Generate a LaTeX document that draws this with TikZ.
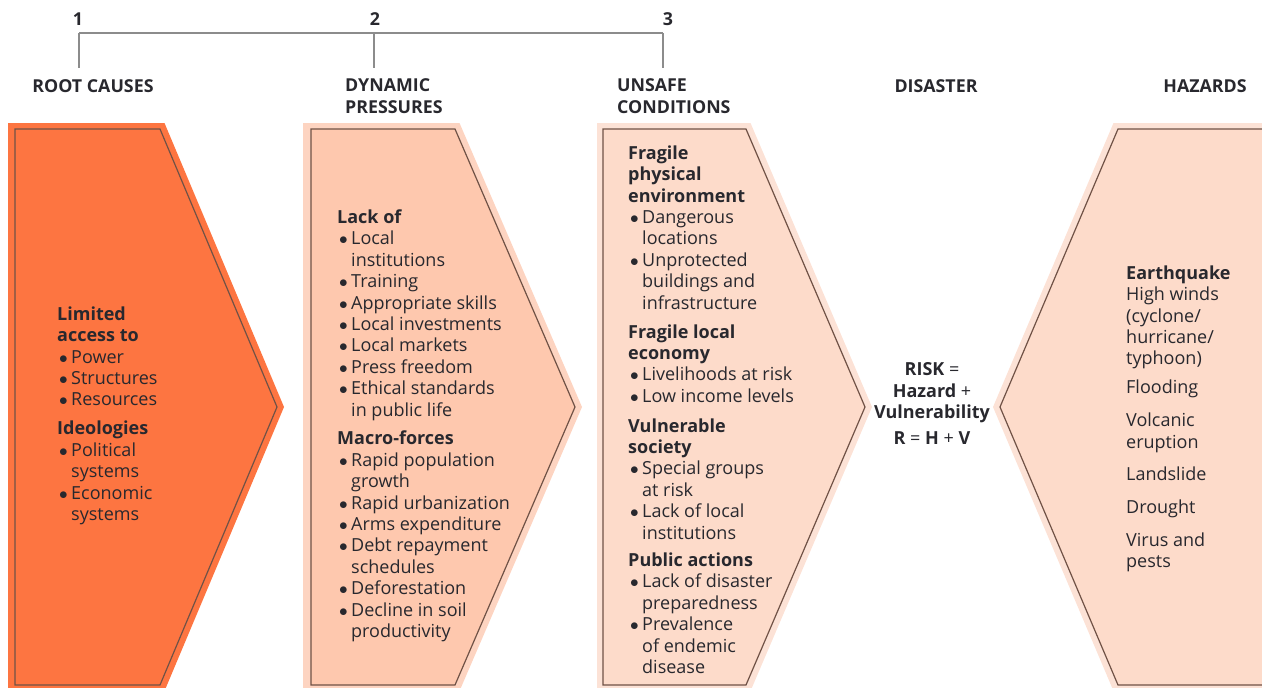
\documentclass[tikz,border=0pt]{standalone}
\usepackage{fontspec}
\setmainfont{Open Sans}
\usetikzlibrary{positioning}

\definecolor{ink}{RGB}{40,40,46}
\definecolor{rootfill}{RGB}{253,117,65}
\definecolor{pressfill}{RGB}{254,200,174}
\definecolor{pressband}{RGB}{253,212,193}
\definecolor{unsafefill}{RGB}{253,219,202}
\definecolor{unsafeband}{RGB}{252,226,214}
\definecolor{edgeline}{RGB}{112,82,70}
\definecolor{bracketgray}{RGB}{140,140,140}

% bullet item and its continuation line
\newcommand{\bul}{\hspace*{2pt}\makebox[12pt][l]{$\bullet$}}
\newcommand{\cont}{\hspace*{14pt}}

\begin{document}
\begin{tikzpicture}[
    x=1pt, y=-1pt,
    font=\fontsize{18}{21.4}\selectfont,
    % Define styles
    head/.style={font=\fontsize{17.8}{21.4}\selectfont\bfseries, text=ink, inner sep=0pt, align=left},
    body/.style={text=ink, inner sep=0pt, align=left, anchor=north west},
    inner/.style={draw=edgeline, line width=1.2pt, line join=miter},
    bracket/.style={draw=bracketgray, line width=1.4pt}
]
\clip (0,0) rectangle (1262,688);

% 1. Numbered bracket over the first three columns
\node[head, anchor=base] (n1) at (78,25) {1};
\node[head, anchor=base] (n2) at (375,25) {2};
\node[head, anchor=base] (n3) at (668,25) {3};
\coordinate (b1) at (79,33);
\coordinate (b2) at (374,33);
\coordinate (b3) at (663,33);
\draw[bracket] (b1) -- (b3);
\draw[bracket] (b1) -- ++(0,35);
\draw[bracket] (b2) -- ++(0,35);
\draw[bracket] (b3) -- ++(0,35);

% Column headings (two-line ones sit on their last baseline)
\node[head, anchor=base] (root) at (93,92) {ROOT CAUSES};
\node[head, anchor=base west] (dyn) at (345,113) {DYNAMIC\\PRESSURES};
\node[head, anchor=base west] (unsafe) at (617,113) {UNSAFE\\CONDITIONS};
\node[head, anchor=base] (dis) at (936,92) {DISASTER};
\node[head, anchor=base] (haz) at (1205,92) {HAZARDS};

% 2. Chevrons
\fill[rootfill] (8,123) -- (164.5,123) -- (284,407) -- (164.5,691) -- (8,691) -- cycle;
\draw[inner, fill=rootfill] (15,129) -- (160,129) -- (277,407) -- (160,685) -- (15,685) -- cycle;

\fill[pressband] (303,123) -- (459.5,123) -- (582,407) -- (459.5,691) -- (303,691) -- cycle;
\draw[inner, fill=pressfill] (311,129) -- (455,129) -- (575,407) -- (455,685) -- (311,685) -- cycle;

\fill[unsafeband] (597,123) -- (750.5,123) -- (872,407) -- (750.5,691) -- (597,691) -- cycle;
\draw[inner, fill=unsafefill] (603,129) -- (746,129) -- (865,407) -- (746,685) -- (603,685) -- cycle;

\fill[unsafeband] (1280,123) -- (1113.5,123) -- (993,407) -- (1113.5,691) -- (1280,691) -- cycle;
\draw[inner, fill=unsafefill] (1280,129) -- (1118,129) -- (1000,407) -- (1118,685) -- (1280,685) -- cycle;

% 3. Column texts
\node[body] (rootlist) at (57,306.5) {\textbf{Limited}\\\textbf{access to}\\
  \bul Power\\\bul Structures\\\bul Resources\\[7.5pt]
  \textbf{Ideologies}\\\bul Political\\\cont systems\\\bul Economic\\\cont systems};

\node[body] (presslist) at (337,209.5) {\textbf{Lack of}\\
  \bul Local\\\cont institutions\\\bul Training\\\bul Appropriate skills\\
  \bul Local investments\\\bul Local markets\\\bul Press freedom\\
  \bul Ethical standards\\\cont in public life\\[7.5pt]
  \textbf{Macro-forces}\\\bul Rapid population\\\cont growth\\
  \bul Rapid urbanization\\\bul Arms expenditure\\\bul Debt repayment\\
  \cont schedules\\\bul Deforestation\\\bul Decline in soil\\\cont productivity};

\node[body] (unsafelist) at (628,145.5) {\textbf{Fragile}\\\textbf{physical}\\\textbf{environment}\\
  \bul Dangerous\\\cont locations\\\bul Unprotected\\\cont buildings and\\\cont infrastructure\\[7.5pt]
  \textbf{Fragile local}\\\textbf{economy}\\\bul Livelihoods at risk\\\bul Low income levels\\[8.5pt]
  \textbf{Vulnerable}\\\textbf{society}\\\bul Special groups\\\cont at risk\\
  \bul Lack of local\\\cont institutions\\[6pt]
  \textbf{Public actions}\\\bul Lack of disaster\\\cont preparedness\\
  \bul Prevalence\\\cont of endemic\\\cont disease};

\node[body, anchor=north, align=center] (risk) at (932,362.5) {\textbf{RISK} =\\\textbf{Hazard} +\\\textbf{Vulnerability}\\[4.5pt]
  \textbf{R} = \textbf{H} + \textbf{V}};

\node[body] (hazlist) at (1126,265.5) {\textbf{Earthquake}\\High winds\\(cyclone/\\hurricane/\\typhoon)\\[7.5pt]
  Flooding\\[11.5pt]Volcanic\\eruption\\[11pt]Landslide\\[11.5pt]Drought\\[11.5pt]
  Virus and\\pests};

\end{tikzpicture}
\end{document}
